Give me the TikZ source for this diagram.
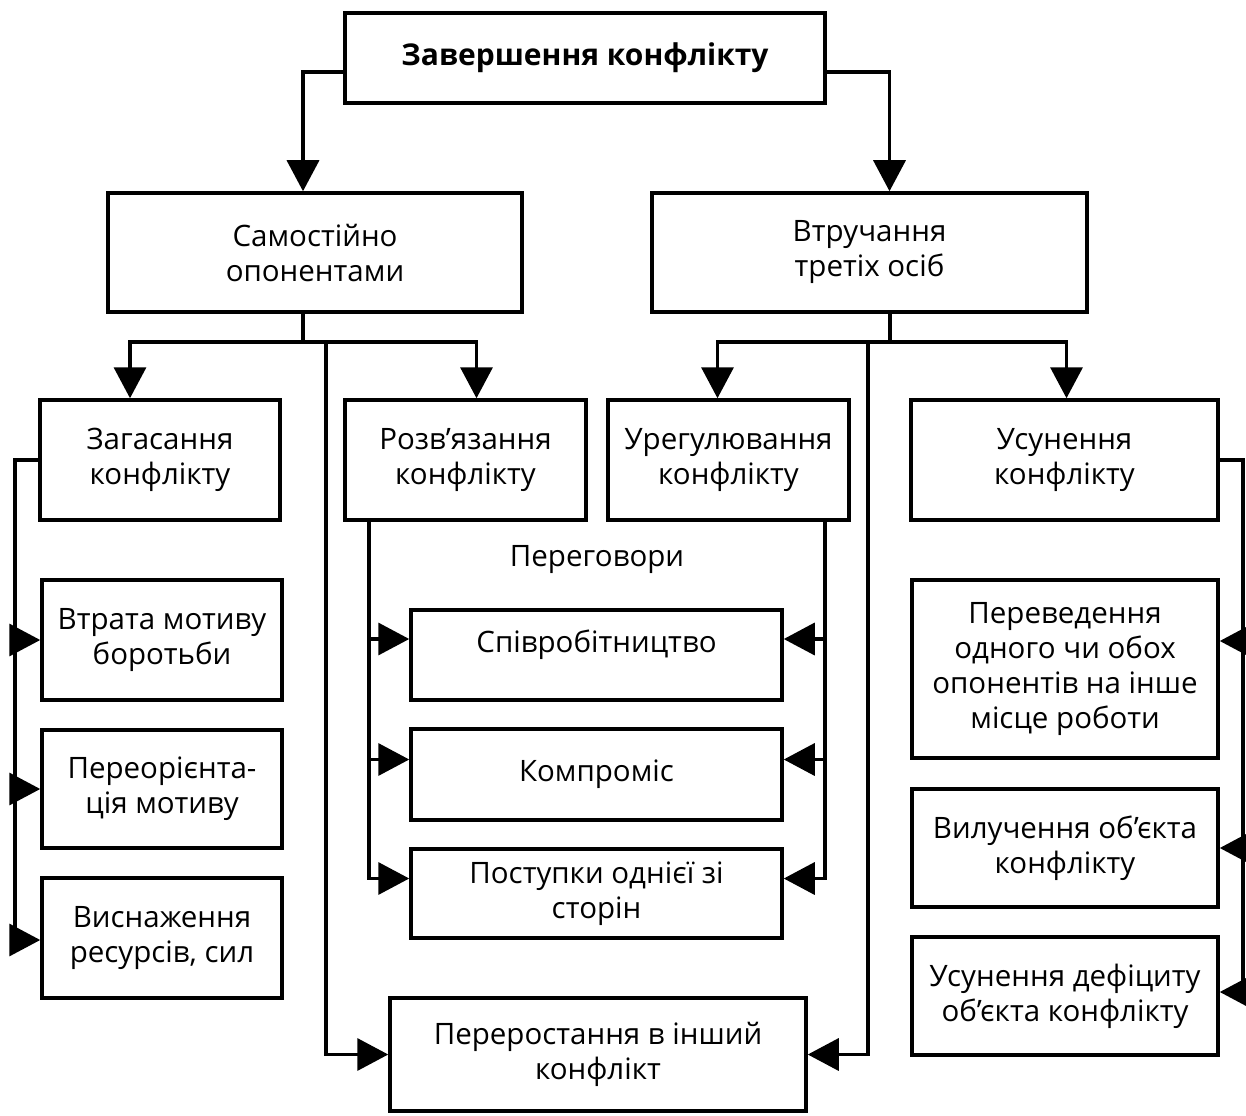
\documentclass[tikz,border=0pt]{standalone}
\usepackage{fontspec}
\setmainfont{Open Sans}
\usetikzlibrary{arrows.meta}
\begin{document}
\begin{tikzpicture}[x=1pt,y=-1pt,
  box/.style={draw, line width=3.5pt, align=center, inner sep=0pt,
    font=\fontsize{29.5}{35}\selectfont},
  conn/.style={line width=3.5pt},
  arr/.style={conn, -{Triangle[length=31pt,width=32pt]}},
  lbl/.style={font=\fontsize{29.5}{35}\selectfont}]
\useasboundingbox (0,0) rectangle (1246,1115);
\newcommand\bx[6]{\node[box, minimum width={(#4-#2)*1pt}, minimum height={(#5-#3)*1pt}] (#1) at ({(#2+#4)/2},{(#3+#5)/2}) {#6};}
% level 1
\bx{top}{345}{13}{825}{103}{\fontsize{30}{34}\selectfont\textbf{Завершення конфлікту}}
% level 2
\bx{samo}{108}{193}{522}{312}{Самостійно\\опонентами}
\bx{vtr}{652}{193}{1087}{312}{Втручання\\третіх осіб}
% level 3
\bx{zag}{40}{400}{280}{520}{Загасання\\конфлікту}
\bx{rozv}{345}{400}{586}{520}{Розв’язання\\конфлікту}
\bx{ureg}{608}{400}{849}{520}{Урегулювання\\конфлікту}
\bx{usun}{911}{400}{1218}{520}{Усунення\\конфлікту}
% left column
\bx{vtrata}{42}{580}{282}{700}{Втрата мотиву\\боротьби}
\bx{pereor}{42}{730}{282}{848}{Переорієнта-\\ція мотиву}
\bx{vysn}{42}{878}{282}{998}{Виснаження\\ресурсів, сил}
% middle
\node[lbl] (pereg) at (597,560) {Переговори};
\bx{spivr}{411}{610}{782}{700}{\raisebox{28pt}{Співробітництво}}
\bx{kompr}{411}{729}{782}{820}{Компроміс}
\bx{postup}{411}{849}{782}{938}{Поступки однієї зі\\сторін}
\bx{perer}{390}{998}{806}{1111}{Переростання в інший\\конфлікт}
% right column
\bx{perev}{912}{580}{1218}{758}{Переведення\\одного чи обох\\опонентів на інше\\місце роботи}
\bx{vyluch}{912}{789}{1218}{907}{Вилучення об’єкта\\конфлікту}
\bx{usdef}{912}{937}{1218}{1055}{Усунення дефіциту\\об’єкта конфлікту}
% attachment points
\coordinate (spW) at ([yshift=16pt]spivr.west);
\coordinate (spE) at ([yshift=16pt]spivr.east);
\coordinate (kmW) at ([yshift=15pt]kompr.west);
\coordinate (kmE) at ([yshift=15pt]kompr.east);
\coordinate (psW) at ([yshift=15pt]postup.west);
\coordinate (psE) at ([yshift=15pt]postup.east);
\coordinate (pvE) at ([yshift=28pt]perev.east);
\coordinate (udE) at ([yshift=4pt]usdef.east);
\coordinate (vsW) at ([yshift=-2pt]vysn.west);
% connectors from top
\draw[arr] ([yshift=-14pt]top.west) -| ([xshift=-12pt]samo.north);
\draw[arr] ([yshift=-14pt]top.east) -| ([xshift=20pt]vtr.north);
% from samo
\coordinate (sj) at (303,342);
\coordinate (ml) at (326,342);
\draw[conn] (samo.south -| sj) -- (sj);
\draw[arr] (sj) -| ([xshift=-30pt]zag.north);
\draw[arr] (sj) -| ([xshift=11pt]rozv.north);
\draw[arr] (ml) |- (perer.west);
% from vtr
\coordinate (vj) at (890,342);
\coordinate (mr) at (868,342);
\draw[conn] (vtr.south -| vj) -- (vj);
\draw[arr] (vj) -| ([xshift=-11pt]ureg.north);
\draw[arr] (vj) -| ([xshift=2pt]usun.north);
\draw[arr] (mr) |- (perer.east);
% zag bracket
\coordinate (zl) at (15,460);
\draw[arr] (zag.west) -- (zl) |- (vsW);
\draw[arr] (zl |- vtrata.west) -- (vtrata.west);
\draw[arr] (zl |- pereor.west) -- (pereor.west);
% rozv bracket
\coordinate (rl) at (369,520);
\draw[arr] (rl) |- (psW);
\draw[arr] (rl |- spW) -- (spW);
\draw[arr] (rl |- kmW) -- (kmW);
% ureg bracket
\coordinate (ur) at (825,520);
\draw[arr] (ur) |- (psE);
\draw[arr] (ur |- spE) -- (spE);
\draw[arr] (ur |- kmE) -- (kmE);
% usun bracket
\coordinate (ul) at (1243,460);
\draw[arr] (usun.east) -- (ul) |- (udE);
\draw[arr] (ul |- pvE) -- (pvE);
\draw[arr] (ul |- vyluch.east) -- (vyluch.east);
\end{tikzpicture}
\end{document}
